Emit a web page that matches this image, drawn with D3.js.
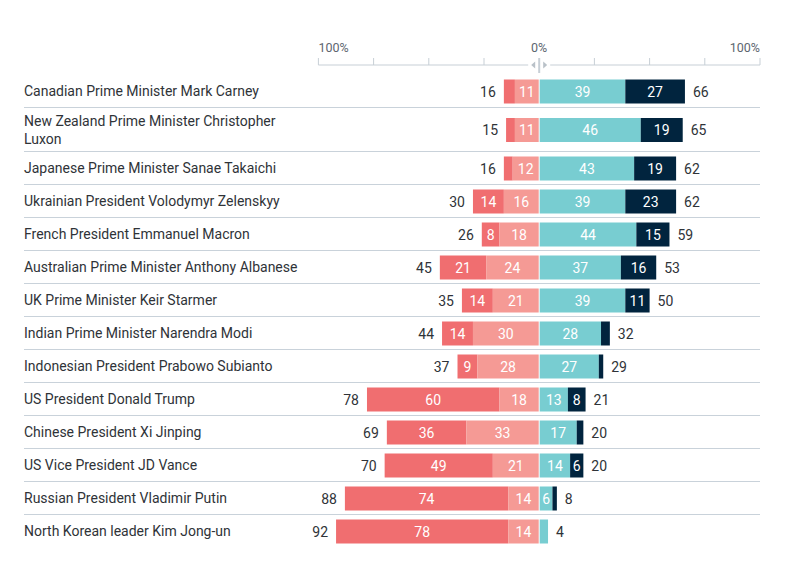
<!DOCTYPE html>
<html><head><meta charset="utf-8">
<script src="https://cdn.jsdelivr.net/npm/d3@7"></script>
<style>body{margin:0;background:#fff}svg{display:block}</style>
</head><body>
<svg id="c" width="785" height="576"></svg>
<script>
const leaders = ["Canadian Prime Minister Mark Carney","New Zealand Prime Minister Christopher Luxon","Japanese Prime Minister Sanae Takaichi","Ukrainian President Volodymyr Zelenskyy","French President Emmanuel Macron","Australian Prime Minister Anthony Albanese","UK Prime Minister Keir Starmer","Indian Prime Minister Narendra Modi","Indonesian President Prabowo Subianto","US President Donald Trump","Chinese President Xi Jinping","US Vice President JD Vance","Russian President Vladimir Putin","North Korean leader Kim Jong-un"];
const strongNeg = [5,4,4,14,8,21,14,14,9,60,36,49,74,78];
const neg       = [11,11,12,16,18,24,21,30,28,18,33,21,14,14];
const pos       = [39,46,43,39,44,37,39,28,27,13,17,14,6,4];
const strongPos = [27,19,19,23,15,16,11,4,2,8,3,6,2,0];
const negTotal  = [16,15,16,30,26,45,35,44,37,78,69,70,88,92];
const posTotal  = [66,65,62,62,59,53,50,32,29,21,20,20,8,4];
const tickVals = [-100,-75,-50,-25,25,50,75,100];
const tickLabels = [{v:-100,t:"100%"},{v:0,t:"0%"},{v:100,t:"100%"}];
const colors = {strongNeg:"#f06e70", neg:"#f59a95", pos:"#78cdd1", strongPos:"#01243e"};

const svg = d3.select("#c");
const font = "Roboto, 'Noto Sans', sans-serif";
const x = d3.scaleLinear().domain([-100,100]).range([318.4,760]);
const x0 = x(0);
const maxLabelW = 285;

// measure label wrapping
const measure = svg.append("text").attr("font-family",font).attr("font-size",14);
const labelLines = leaders.map(name => {
  measure.text(name);
  if (measure.node().getComputedTextLength() <= maxLabelW) return [name];
  const words = name.split(" "); const lines = []; let cur = [];
  words.forEach(w => { measure.text([...cur,w].join(" "));
    if (measure.node().getComputedTextLength() > maxLabelW && cur.length) { lines.push(cur.join(" ")); cur=[w]; } else cur.push(w); });
  lines.push(cur.join(" ")); return lines;
});
measure.remove();

const rowH = labelLines.map(l => l.length > 1 ? 44 : 33);
let yy = 74; const rowTop = [];
rowH.forEach(h => { rowTop.push(yy); yy += h; });

// axis
const ax = svg.append("g").attr("transform","translate(0,65)");
const axLine = "#c7cfd6";
ax.append("line").attr("x1",x(-100)).attr("x2",x0-11).attr("stroke",axLine).attr("stroke-width",1);
ax.append("line").attr("x1",x0+11).attr("x2",x(100)).attr("stroke",axLine).attr("stroke-width",1);
ax.selectAll("line.t").data(tickVals).join("line").attr("class","t")
  .attr("x1",d=>x(d)).attr("x2",d=>x(d)).attr("y1",0).attr("y2",-7).attr("stroke",axLine).attr("stroke-width",1);
ax.append("line").attr("x1",x0).attr("x2",x0).attr("y1",-7).attr("y2",8).attr("stroke",axLine).attr("stroke-width",2);
ax.append("path").attr("d",`M${x0-4},-3.5 L${x0-4},3.5 L${x0-8},0 Z`).attr("fill","#b9c1c8");
ax.append("path").attr("d",`M${x0+4},-3.5 L${x0+4},3.5 L${x0+8},0 Z`).attr("fill","#b9c1c8");
svg.selectAll("text.tl").data(tickLabels).join("text").attr("class","tl")
  .attr("x",d=>x(d.v)).attr("y",52)
  .attr("text-anchor",d=>d.v<0?"start":d.v>0?"end":"middle")
  .attr("font-family",font).attr("font-size",12.5).attr("fill","#5d6670").text(d=>d.t);

// separators
svg.selectAll("line.sep").data(rowTop.slice(1)).join("line").attr("class","sep")
  .attr("x1",24).attr("x2",760).attr("y1",d=>d+0.5).attr("y2",d=>d+0.5)
  .attr("stroke","#c9d2da").attr("stroke-width",1);

const rows = svg.selectAll("g.row").data(leaders).join("g").attr("class","row")
  .attr("transform",(d,i)=>`translate(0,${rowTop[i]+rowH[i]/2+1})`);

rows.each(function(name,i){
  const g = d3.select(this);
  const lines = labelLines[i];
  const t = g.append("text").attr("font-family",font).attr("font-size",14).attr("fill","#2f3338");
  lines.forEach((ln,k)=>{
    t.append("tspan").attr("x",24).attr("y",(k-(lines.length-1)/2)*18+4.5).text(ln);
  });
});

const bh = 24;
rows.each(function(name,i){
  const g = d3.select(this);
  const segs = [
    {x1:x(-negTotal[i]), x2:x(-neg[i]), v:strongNeg[i], c:colors.strongNeg},
    {x1:x(-neg[i]), x2:x0-0.5, v:neg[i], c:colors.neg},
    {x1:x0+0.5, x2:x(pos[i]), v:pos[i], c:colors.pos},
    {x1:x(pos[i]), x2:x(pos[i]+strongPos[i]), v:strongPos[i], c:colors.strongPos}
  ];
  segs.forEach(s=>{
    if (s.v<=0) return;
    g.append("rect").attr("x",s.x1).attr("y",-bh/2).attr("width",Math.max(0,s.x2-s.x1)).attr("height",bh).attr("fill",s.c);
    if (s.v>=6) g.append("text").attr("x",(s.x1+s.x2)/2).attr("y",5).attr("text-anchor","middle")
      .attr("font-family",font).attr("font-size",14).attr("fill","#fff").text(s.v);
  });
  g.append("text").attr("x",x(-negTotal[i])-8).attr("y",5).attr("text-anchor","end")
    .attr("font-family",font).attr("font-size",14).attr("fill","#2f3338").text(negTotal[i]);
  g.append("text").attr("x",x(posTotal[i])+8).attr("y",5).attr("text-anchor","start")
    .attr("font-family",font).attr("font-size",14).attr("fill","#2f3338").text(posTotal[i]);
});
</script>
</body></html>
